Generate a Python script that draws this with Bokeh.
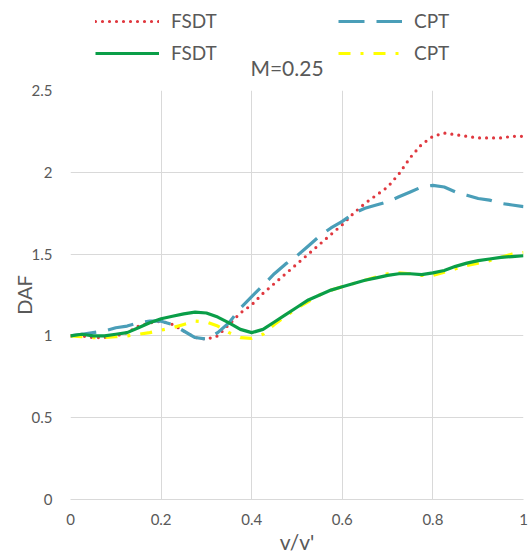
from bokeh.plotting import figure
from bokeh.models import Legend, LegendItem, FixedTicker, Range1d, ColumnDataSource, Label
from bokeh.layouts import column
from bokeh.embed import file_html
from bokeh.resources import INLINE

# ---------------- data ----------------
x = [0.0, 0.025, 0.05, 0.075, 0.1, 0.125, 0.15, 0.175, 0.2, 0.225,
     0.25, 0.275, 0.3, 0.325, 0.35, 0.375, 0.4, 0.425, 0.45, 0.475,
     0.5, 0.525, 0.55, 0.575, 0.6, 0.625, 0.65, 0.675, 0.7, 0.725,
     0.75, 0.775, 0.8, 0.825, 0.85, 0.875, 0.9, 0.925, 0.95, 0.975, 1.0]

fsdt_1 = [1.00, 1.00, 0.99, 0.99, 1.00, 1.02, 1.06, 1.08, 1.09, 1.07,
          1.03, 0.99, 0.98, 1.00, 1.07, 1.14, 1.19, 1.26, 1.32, 1.38,
          1.44, 1.50, 1.56, 1.62, 1.68, 1.75, 1.81, 1.86, 1.91, 1.99,
          2.09, 2.17, 2.22, 2.24, 2.23, 2.22, 2.21, 2.21, 2.21, 2.22, 2.22]

cpt_1 = [1.00, 1.01, 1.02, 1.03, 1.05, 1.06, 1.08, 1.09, 1.09, 1.07,
         1.03, 0.99, 0.98, 1.02, 1.08, 1.17, 1.24, 1.31, 1.38, 1.44,
         1.49, 1.55, 1.61, 1.66, 1.70, 1.75, 1.78, 1.80, 1.82, 1.85,
         1.88, 1.91, 1.92, 1.91, 1.88, 1.86, 1.84, 1.83, 1.81, 1.80, 1.79]

fsdt_2 = [1.00, 1.01, 1.00, 1.00, 1.01, 1.02, 1.05, 1.08, 1.105, 1.12,
          1.135, 1.145, 1.14, 1.115, 1.08, 1.04, 1.02, 1.04, 1.085, 1.13,
          1.175, 1.22, 1.25, 1.28, 1.30, 1.32, 1.34, 1.355, 1.37, 1.38,
          1.38, 1.375, 1.385, 1.40, 1.425, 1.445, 1.46, 1.47, 1.48, 1.485, 1.49]

cpt_2 = [1.00, 0.995, 0.99, 0.99, 0.995, 1.00, 1.01, 1.02, 1.035, 1.05,
         1.07, 1.09, 1.085, 1.06, 1.02, 0.99, 0.985, 1.01, 1.07, 1.12,
         1.17, 1.21, 1.25, 1.28, 1.30, 1.32, 1.34, 1.36, 1.38, 1.385,
         1.38, 1.37, 1.37, 1.39, 1.41, 1.43, 1.445, 1.46, 1.48, 1.50, 1.51]

x_ticks = [0, 0.2, 0.4, 0.6, 0.8, 1.0]
x_tick_labels = ["0", "0.2", "0.4", "0.6", "0.8", "1"]
y_ticks = [0, 0.5, 1.0, 1.5, 2.0, 2.5]
y_tick_labels = ["0", "0.5", "1", "1.5", "2", "2.5"]

series_labels = ["FSDT", "CPT", "FSDT", "CPT"]
title_text = "M=0.25"
x_title = "v/v'"
y_title = "DAF"

# ---------------- styles ----------------
FONT = "Lato"
GRAY = "#595959"
GRID = "#D9D9D9"
styles = [
    dict(line_color="#E0383F", line_width=3.2, line_dash="0 7", line_cap="round"),
    dict(line_color="#4A9EB8", line_width=3.2, line_dash="26 12"),
    dict(line_color="#0A9E48", line_width=3.2),
    dict(line_color="#FFFF00", line_width=3.2, line_dash="12 10 3 10"),
]

# ---------------- main plot ----------------
p = figure(width=531, height=474, output_backend="svg", toolbar_location=None,
           x_range=Range1d(0, 1), y_range=Range1d(0, 2.5), title=None,
           min_border_left=70, min_border_right=8, min_border_top=8, min_border_bottom=54,
           background_fill_color="white", border_fill_color="white")
p.outline_line_color = None

src = ColumnDataSource(dict(x=x, f1=fsdt_1, c1=cpt_1, f2=fsdt_2, c2=cpt_2))
p.line("x", "f1", source=src, **styles[0])
p.line("x", "c1", source=src, **styles[1])
p.line("x", "c2", source=src, **styles[3])
p.line("x", "f2", source=src, **styles[2])

for ax, ticks, labels in ((p.xaxis[0], x_ticks, x_tick_labels), (p.yaxis[0], y_ticks, y_tick_labels)):
    ax.ticker = FixedTicker(ticks=ticks)
    ax.major_label_overrides = {t: l for t, l in zip(ticks, labels)}
    ax.major_tick_line_color = None
    ax.minor_tick_line_color = None
    ax.major_label_text_font = FONT
    ax.major_label_text_font_size = "15px"
    ax.major_label_text_color = GRAY
    ax.axis_label_text_font = FONT
    ax.axis_label_text_font_style = "normal"
    ax.axis_label_text_color = GRAY

p.xaxis.axis_label = x_title
p.xaxis.axis_label_text_font_size = "21px"
p.xaxis.major_label_standoff = 8
p.xaxis.axis_label_standoff = 1
p.xaxis.axis_line_color = GRID

p.yaxis.axis_label = y_title
p.yaxis.axis_label_text_font_size = "20px"
p.yaxis.major_label_standoff = 12
p.yaxis.axis_label_standoff = -7
p.yaxis.axis_line_color = None

p.xgrid.ticker = FixedTicker(ticks=x_ticks)
p.ygrid.ticker = FixedTicker(ticks=y_ticks)
p.grid.grid_line_color = GRID
p.grid.grid_line_width = 1

# ---------------- header: legend + title (frame aligned with main plot) ----------------
top = figure(width=531, height=82, output_backend="svg", toolbar_location=None,
             x_range=Range1d(0, 453), y_range=Range1d(0, 82), title=None,
             x_axis_location=None, y_axis_location=None, min_border=0,
             background_fill_color="white", border_fill_color="white")
top.outline_line_color = None
top.grid.visible = False

nan = float("nan")
keys = [top.line([nan], [nan], **s) for s in styles]
legend = Legend(items=[LegendItem(label=lab, renderers=[r]) for lab, r in zip(series_labels, keys)],
                location=(25, 18), orientation="horizontal", ncols=2,
                glyph_width=64, glyph_height=20, label_standoff=12, label_width=158,
                spacing=9, padding=0, margin=0,
                label_text_font=FONT, label_text_font_size="19px", label_text_color=GRAY,
                border_line_color=None, background_fill_alpha=0)
top.add_layout(legend)

top.add_layout(Label(x=216.5, y=15, text=title_text, text_align="center", text_baseline="middle",
                     text_font=FONT, text_font_size="21px", text_color=GRAY))

layout = column(top, p, spacing=0)
open("out.html", "w").write(file_html(layout, INLINE))
